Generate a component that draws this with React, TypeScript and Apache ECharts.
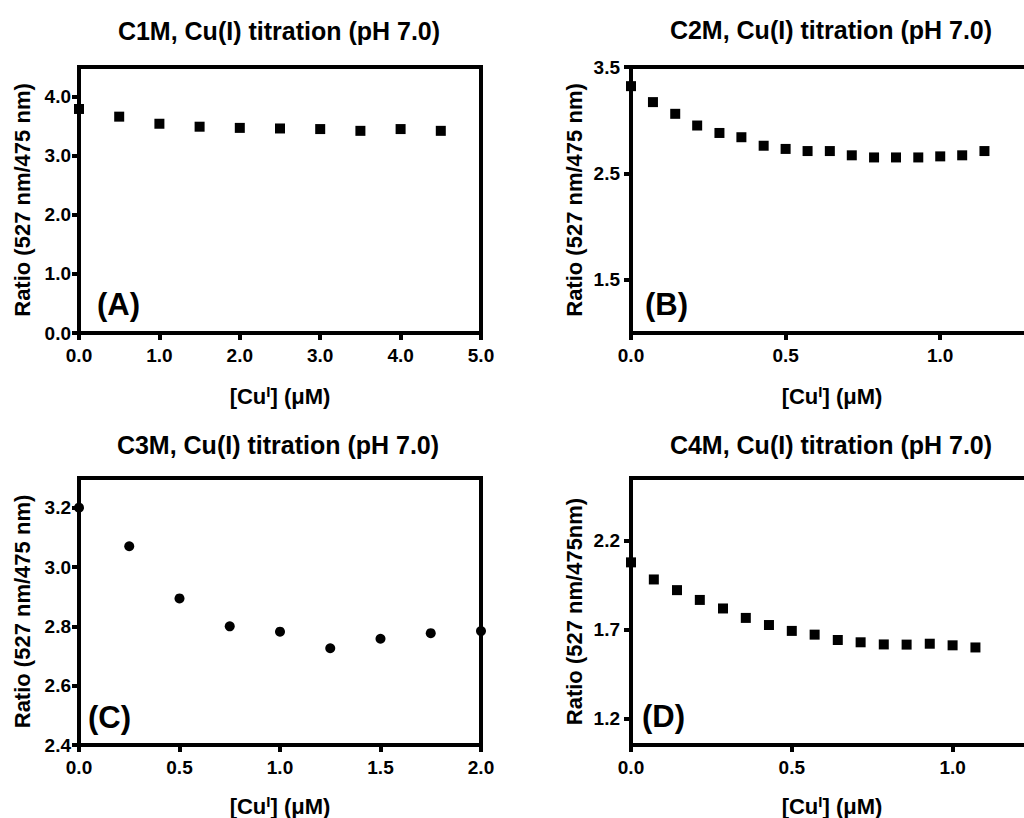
import React, { useEffect, useRef } from "react";
import * as echarts from "echarts";

const FONT = '"Liberation Sans", Arial, Helvetica, sans-serif';

// ---- Texts ----
const panelTitles = [
  "C1M, Cu(I) titration (pH 7.0)",
  "C2M, Cu(I) titration (pH 7.0)",
  "C3M, Cu(I) titration (pH 7.0)",
  "C4M, Cu(I) titration (pH 7.0)",
];
const panelLetters = ["(A)", "(B)", "(C)", "(D)"];
const yAxisNames = [
  "Ratio (527 nm/475 nm)",
  "Ratio (527 nm/475 nm)",
  "Ratio (527 nm/475 nm)",
  "Ratio (527 nm/475nm)",
];
const xAxisName = "[Cu{sup|I}] (\u03bcM)";

// ---- Data: C1M (A) ----
const c1mConc = [0, 0.5, 1.0, 1.5, 2.0, 2.5, 3.0, 3.5, 4.0, 4.5];
const c1mRatio = [3.79, 3.66, 3.54, 3.49, 3.47, 3.46, 3.45, 3.42, 3.45, 3.42];
const c1mXTicks = [0, 1, 2, 3, 4, 5];
const c1mYTicks = [0, 1, 2, 3, 4];

// ---- Data: C2M (B) ----
const c2mConc = [0, 0.071, 0.143, 0.214, 0.286, 0.357, 0.429, 0.5, 0.571, 0.643, 0.714, 0.786, 0.857, 0.929, 1.0, 1.071, 1.143];
const c2mRatio = [3.32, 3.17, 3.06, 2.95, 2.88, 2.84, 2.76, 2.73, 2.71, 2.71, 2.67, 2.65, 2.65, 2.65, 2.66, 2.67, 2.71];
const c2mXTicks = [0, 0.5, 1.0];
const c2mYTicks = [1.5, 2.5, 3.5];

// ---- Data: C3M (C) ----
const c3mConc = [0, 0.25, 0.5, 0.75, 1.0, 1.25, 1.5, 1.75, 2.0];
const c3mRatio = [3.2, 3.07, 2.894, 2.8, 2.782, 2.726, 2.758, 2.777, 2.784];
const c3mXTicks = [0, 0.5, 1.0, 1.5, 2.0];
const c3mYTicks = [2.4, 2.6, 2.8, 3.0, 3.2];

// ---- Data: C4M (D) ----
const c4mConc = [0, 0.071, 0.143, 0.214, 0.286, 0.357, 0.429, 0.5, 0.571, 0.643, 0.714, 0.786, 0.857, 0.929, 1.0, 1.071];
const c4mRatio = [2.076, 1.98, 1.92, 1.865, 1.817, 1.764, 1.724, 1.691, 1.67, 1.64, 1.627, 1.615, 1.614, 1.619, 1.61, 1.598];
const c4mXTicks = [0, 0.5, 1.0];
const c4mYTicks = [1.2, 1.7, 2.2];

const panels = [
  { x: c1mConc, y: c1mRatio, xTicks: c1mXTicks, yTicks: c1mYTicks, xMin: 0, xMax: 5, yMin: 0, yMax: 4.5, symbol: "rect" },
  { x: c2mConc, y: c2mRatio, xTicks: c2mXTicks, yTicks: c2mYTicks, xMin: 0, xMax: 1.3, yMin: 1.0, yMax: 3.5, symbol: "rect" },
  { x: c3mConc, y: c3mRatio, xTicks: c3mXTicks, yTicks: c3mYTicks, xMin: 0, xMax: 2, yMin: 2.4, yMax: 3.3, symbol: "circle" },
  { x: c4mConc, y: c4mRatio, xTicks: c4mXTicks, yTicks: c4mYTicks, xMin: 0, xMax: 1.25, yMin: 1.05, yMax: 2.55, symbol: "rect" },
];

// layout (pixels)
const grids = [
  { left: 79, top: 67, width: 402, height: 266 },
  { left: 631, top: 67, width: 402, height: 266 },
  { left: 79, top: 478, width: 402, height: 267 },
  { left: 631, top: 478, width: 402, height: 267 },
];
const titlePos = [
  [279, 31],
  [831, 30],
  [278, 445],
  [831, 445],
];
const letterPos = [
  [97, 304],
  [645, 304],
  [88, 717],
  [642, 716],
];

const LINE_W = 4;
const fmt = (v: number) => v.toFixed(1);
const frameLine = { show: true, onZero: false, lineStyle: { color: "#000", width: LINE_W, cap: "square" } };

function buildOption() {
  const xAxis: any[] = [];
  const yAxis: any[] = [];
  const series: any[] = [];
  panels.forEach((p, i) => {
    xAxis.push({
      type: "value",
      gridIndex: i,
      position: "bottom",
      min: p.xMin,
      max: p.xMax,
      name: xAxisName,
      nameLocation: "middle",
      nameGap: i < 2 ? 51 : 49,
      nameTextStyle: {
        fontFamily: FONT,
        fontSize: 22,
        fontWeight: "bold",
        color: "#000",
        lineHeight: 24,
        rich: {
          sup: {
            fontFamily: FONT,
            fontSize: 15,
            fontWeight: "bold",
            color: "#000",
            verticalAlign: "top",
            lineHeight: 15,
          },
        },
      },
      axisLine: frameLine,
      axisTick: { show: true, length: 7, customValues: p.xTicks, lineStyle: { color: "#000", width: LINE_W } },
      axisLabel: {
        customValues: p.xTicks,
        formatter: fmt,
        margin: 13,
        fontFamily: FONT,
        fontSize: 19,
        fontWeight: "bold",
        color: "#000",
      },
      splitLine: { show: false },
    });
    yAxis.push({
      type: "value",
      gridIndex: i,
      position: "left",
      min: p.yMin,
      max: p.yMax,
      name: yAxisNames[i],
      nameLocation: "middle",
      nameGap: 46,
      nameRotate: 90,
      nameTextStyle: { fontFamily: FONT, fontSize: 22, fontWeight: "bold", color: "#000" },
      axisLine: frameLine,
      axisTick: { show: true, length: 7, customValues: p.yTicks, lineStyle: { color: "#000", width: LINE_W } },
      axisLabel: {
        customValues: p.yTicks,
        formatter: fmt,
        margin: i % 2 === 0 ? 8 : 11,
        fontFamily: FONT,
        fontSize: 19,
        fontWeight: "bold",
        color: "#000",
      },
      splitLine: { show: false },
    });
    series.push({
      type: "scatter",
      xAxisIndex: i,
      yAxisIndex: i,
      symbol: p.symbol,
      symbolSize: 10,
      clip: false,
      itemStyle: { color: "#000", opacity: 1 },
      data: p.x.map((xv, k) => [xv, p.y[k]]),
      z: 5,
    });
  });
  // frame: top and right edges
  panels.forEach((p, i) => {
    xAxis.push({
      type: "value",
      gridIndex: i,
      position: "top",
      min: p.xMin,
      max: p.xMax,
      axisLine: frameLine,
      axisTick: { show: false },
      axisLabel: { show: false },
      splitLine: { show: false },
    });
    yAxis.push({
      type: "value",
      gridIndex: i,
      position: "right",
      min: p.yMin,
      max: p.yMax,
      axisLine: frameLine,
      axisTick: { show: false },
      axisLabel: { show: false },
      splitLine: { show: false },
    });
  });

  const graphic: any[] = [];
  panelTitles.forEach((t, i) => {
    graphic.push({
      type: "text",
      x: titlePos[i][0],
      y: titlePos[i][1],
      style: {
        text: t,
        fill: "#000",
        font: `bold 25px ${FONT}`,
        align: "center",
        verticalAlign: "middle",
      },
    });
  });
  panelLetters.forEach((t, i) => {
    graphic.push({
      type: "text",
      x: letterPos[i][0],
      y: letterPos[i][1],
      z: 10,
      style: {
        text: t,
        fill: "#000",
        font: `bold 31px ${FONT}`,
        align: "left",
        verticalAlign: "middle",
      },
    });
  });

  return {
    animation: false,
    backgroundColor: "#fff",
    grid: grids.map((g) => ({
      ...g,
      show: false,
      containLabel: false,
      outerBoundsMode: "none",
    })),
    xAxis,
    yAxis,
    series,
    graphic,
  };
}

export default function App() {
  const ref = useRef<HTMLDivElement>(null);
  useEffect(() => {
    if (!ref.current) return;
    const chart = echarts.init(ref.current, undefined, { renderer: "svg" });
    chart.setOption(buildOption() as any);
    return () => chart.dispose();
  }, []);
  return (
    <div
      ref={ref}
      style={{ position: "absolute", left: 0, top: 0, width: 1024, height: 818, background: "#fff" }}
    />
  );
}
